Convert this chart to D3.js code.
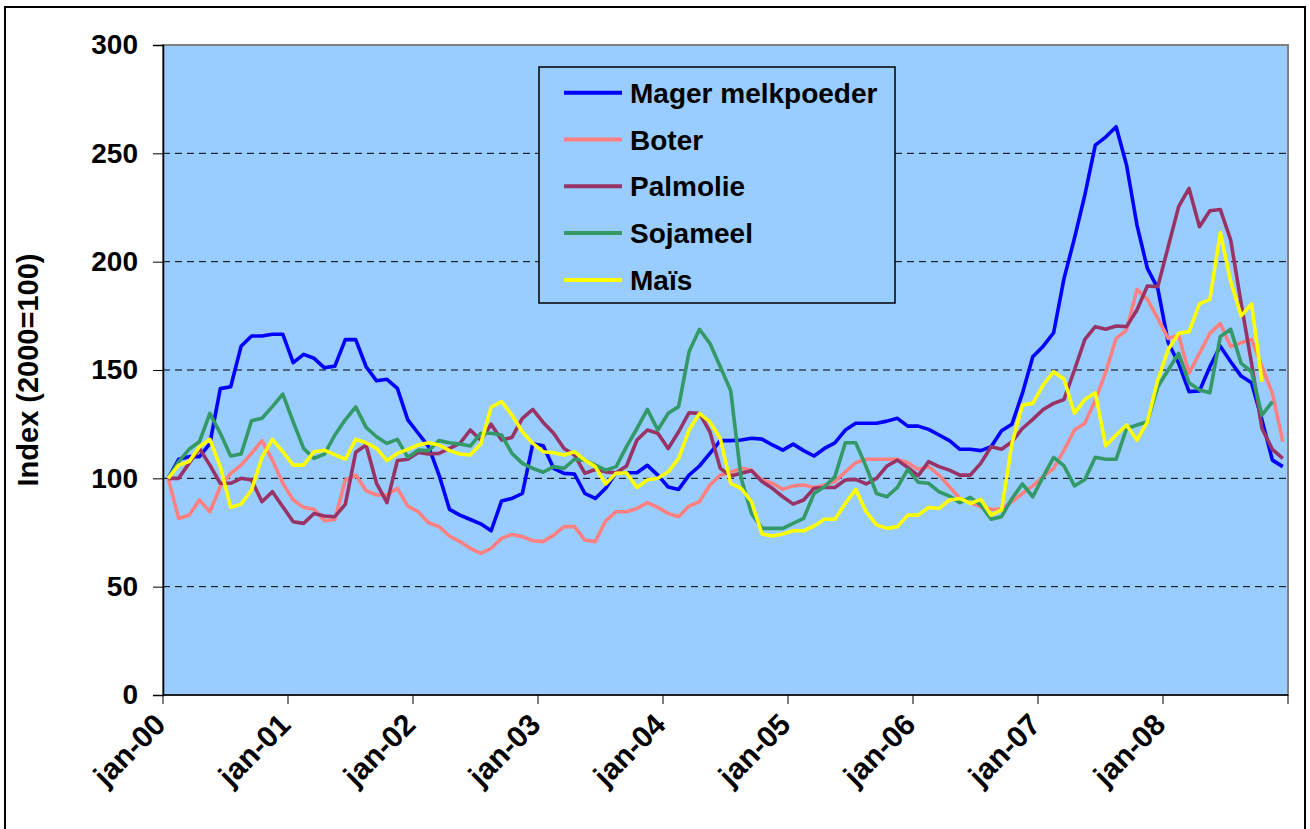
<!DOCTYPE html>
<html><head><meta charset="utf-8">
<script src="https://cdn.jsdelivr.net/npm/d3@7"></script>
<style>html,body{margin:0;padding:0;background:#fff;}svg{display:block;font-family:"Liberation Sans",Arial,sans-serif;}</style>
</head><body>
<svg id="c" width="1310" height="829"></svg>
<script>
const monthNames = ["jan","feb","mrt","apr","mei","jun","jul","aug","sep","okt","nov","dec"];
const years = ["00","01","02","03","04","05","06","07","08"];
const categories = years.flatMap(y => monthNames.map(m => m + "-" + y));
const tickLabels = ["jan-00","jan-01","jan-02","jan-03","jan-04","jan-05","jan-06","jan-07","jan-08"];
const yTicks = [0,50,100,150,200,250,300];
const seriesNames = ["Mager melkpoeder","Boter","Palmolie","Sojameel","Maïs"];
const seriesColors = ["#0000FF","#FF8080","#993366","#339966","#FFFF00"];

const magerMelkpoeder = [100,108.8,110,110,116,141.4,142.3,161,165.7,165.7,166.5,166.5,153.4,157.2,155.4,151,151.8,164,164,151.5,145,145.7,141.5,127,120.8,114.6,101.5,85.7,83,81,79,75.8,89.5,90.7,93,116,115,104.6,102.3,102,93,90.7,95.4,102.6,102.6,102.6,106,101.5,96,94.9,101.5,105.7,111.5,117.4,117.4,117.7,118.5,118.1,115.4,113,115.8,112.8,110.3,113.8,116.4,122.3,125.4,125.4,125.4,126.4,127.7,124.1,124.1,122.6,120,117.4,113.4,113.4,112.8,114.6,122,125,139.2,156.1,161,167.2,192.3,210.8,230.8,253.8,257.5,262.3,244.6,216.9,196.9,187.7,162.6,153.1,140,140.3,151.5,161,153.8,147.2,144.1,126.9,108.4,105.4];
const boter = [100,81.5,83,90,84.6,96.1,102.3,106.1,111.5,117.4,108.4,97.7,90,86.6,85.7,80.4,81,99.2,101.5,94.3,92.3,92.3,95.4,87.2,84.6,79.5,77.7,73.4,70.8,67.7,65.4,67.7,72.3,74.1,73.1,71.2,70.8,73.8,77.7,77.7,71.5,70.8,80.4,84.6,84.6,86.1,88.8,86.6,83.8,82.3,87.2,89.2,96.9,101.5,102.8,104.6,103.8,99.2,97.7,94.9,96.5,96.9,95.8,96.9,98.5,103,107.2,108.8,108.8,108.8,108.8,107.2,104.2,105.4,101.5,96.1,90.7,88.8,86.9,85.7,85.7,89.2,93,96.5,100.8,104.6,113,122.3,125.4,136.1,149,164.6,168.4,187.2,182.6,173.8,164.6,166.1,148.5,157.7,166.9,171.5,160.8,162.6,164.1,151.5,139.2,116.9];
const palmolie = [100,100,106.9,113.8,106.1,97.7,97.7,100,99.2,89.2,93.8,86.9,80,79.2,83.8,82.6,82.3,88,112,115.4,97.7,88.8,108.2,108.8,111.9,111.2,111.5,113.8,116.1,122.3,117.7,125,117.7,118.9,127.7,131.8,125.8,120.8,113.8,110.8,102.3,104.1,103,102.6,105.7,117.7,122.3,120.8,113.8,121.5,130.3,130,121.5,104.6,101.1,102.3,103.5,98.5,95.4,91.5,88.1,90,95.4,95.8,95.8,99.2,99.5,97.4,100,105.7,108.4,105,101.2,107.7,105.4,103.8,101.5,101.5,106.9,114.6,113.4,116.9,123,127.2,131.8,134.6,136.4,150,164.1,170,168.8,170.3,170,177.7,188.8,188.5,206.9,225.4,233.8,216.1,223.5,224.1,210,180.8,153.1,123,113.4,109.2];
const sojameel = [100,107.7,113.4,116.9,130,120.8,110.3,111.2,126.6,127.7,133.1,138.9,126.1,113.8,109.2,111.2,120,127,133,123.5,119.2,116.1,118,109.7,113,112.8,117.4,116.4,115.8,114.9,120.8,120.8,120,111.5,106.9,104.6,102.8,105.4,104.6,108.8,108.4,106.1,103.8,105.4,114.6,123,131.8,122.3,130,133.1,158.4,168.8,162.3,151.5,140.4,100,83.8,76.9,76.9,76.9,79.2,81.5,93,96.1,100.8,116.4,116.4,105.4,93,91.5,95.8,104.1,98.2,97.7,93.8,91.8,88.8,91.2,87.7,81.1,82.3,90.7,97.4,91.5,100.8,109.7,105.7,96.5,99.5,109.7,108.8,108.8,123,124.6,126.1,142.3,150,157.7,144.1,140.8,139.5,165.4,168.8,153.1,149.2,129.2,135.4];
const mais = [100,106.1,107.7,114.6,118,105.4,86.6,88.1,94.6,109.7,118,112.3,106.1,106.1,112.3,113,110.8,108.8,118,116.4,113.8,108.2,111.5,113.4,115.4,116.4,115.4,112.8,111.2,110.8,115.8,132.8,135.4,129.2,121.5,116.1,112.3,111.8,110.8,112.3,108.4,105.4,97.4,102.3,102.6,95.8,99.2,100,103,109.2,122.3,130,126.1,118.4,97.7,95.4,89.2,74.3,73.4,74.3,75.8,75.8,78,81.1,81.1,88.4,94.9,84.6,78.5,76.9,77.7,83,83,86.6,86.1,90,90.7,88.4,90.3,83,85.4,116.1,133.8,134.6,143.1,149.2,145.7,130,136.4,139.5,115,120,124.6,117.7,126.1,145.4,159.5,166.9,167.7,180.5,182.6,213.4,190.8,175,180.5,144.6];

const seriesValues = [magerMelkpoeder, boter, palmolie, sojameel, mais];

const svg = d3.select("#c");
const L = 163, R = 1288, T = 45, B = 695;

// outer frame
svg.append("rect").attr("x",5).attr("y",7).attr("width",1300).attr("height",830)
  .attr("fill","#fff").attr("stroke","#000").attr("stroke-width",2);

const x = d3.scaleBand().domain(categories).range([L, R]).padding(0);
const y = d3.scaleLinear().domain([0,300]).range([B, T]);
const cx = c => x(c) + x.bandwidth()/2;

// plot area
svg.append("rect").attr("x",L).attr("y",T).attr("width",R-L).attr("height",B-T)
  .attr("fill","#99CCFF").attr("stroke","#808080").attr("stroke-width",2);

// gridlines
svg.append("g").selectAll("line").data(yTicks.filter(v => v > 0 && v < 300)).join("line")
  .attr("x1",L).attr("x2",R).attr("y1",d=>y(d)).attr("y2",d=>y(d))
  .attr("stroke","#000").attr("stroke-width",1).attr("stroke-dasharray","7,5");

// y axis
const yAxis = d3.axisLeft(y).tickValues(yTicks).tickSize(10).tickPadding(15).tickFormat(d3.format("d"));
const gy = svg.append("g").attr("transform",`translate(${L},0)`).call(yAxis);
gy.select(".domain").attr("stroke","#000").attr("stroke-width",1.5);
gy.selectAll(".tick line").attr("stroke","#000").attr("stroke-width",1);
gy.selectAll("text").attr("font-size",28).attr("font-weight","bold").attr("fill","#000")
  .attr("font-family","'Liberation Sans',Arial,sans-serif");

// x axis
const xTickCats = categories.filter(c => c.startsWith("jan"));
const gx = svg.append("g").attr("transform",`translate(0,${B})`);
gx.append("line").attr("x1",L).attr("x2",R).attr("y1",0).attr("y2",0).attr("stroke","#000").attr("stroke-width",1.5);
const tickXs = xTickCats.map(c => x(c)).concat([R]);
gx.selectAll("line.t").data(tickXs).join("line").attr("class","t")
  .attr("x1",d=>d).attr("x2",d=>d).attr("y1",0).attr("y2",9).attr("stroke","#000").attr("stroke-width",1);
gx.selectAll("text").data(xTickCats.filter(c => tickLabels.includes(c))).join("text")
  .attr("transform", c => `translate(${x(c)-3},${24}) rotate(-45)`)
  .attr("text-anchor","end").attr("dy","0.35em")
  .attr("font-size",30).attr("font-weight","bold").attr("fill","#000")
  .text(c => c);

// y title
svg.append("text").attr("transform",`translate(38,370) rotate(-90)`)
  .attr("text-anchor","middle").attr("font-size",29).attr("font-weight","bold").text("Index (2000=100)");

// lines
const line = d3.line().x((d,i) => cx(categories[i])).y(d => y(d));
svg.append("g").selectAll("path").data(seriesValues).join("path")
  .attr("d", d => line(d)).attr("fill","none")
  .attr("stroke",(d,i)=>seriesColors[i]).attr("stroke-width",3.6)
  .attr("stroke-linejoin","round");

// legend
const lg = svg.append("g");
lg.append("rect").attr("x",539).attr("y",67).attr("width",356).attr("height",236)
  .attr("fill","#99CCFF").attr("stroke","#000").attr("stroke-width",1.5);
const items = lg.selectAll("g.it").data(seriesNames).join("g").attr("class","it")
  .attr("transform",(d,i)=>`translate(0,${92.7 + i*46.8})`);
items.append("line").attr("x1",564).attr("x2",622).attr("y1",0).attr("y2",0)
  .attr("stroke",(d,i)=>seriesColors[i]).attr("stroke-width",4);
items.append("text").attr("x",630).attr("dy","0.36em").attr("font-size",28).attr("font-weight","bold").text(d=>d);
</script>
</body></html>
